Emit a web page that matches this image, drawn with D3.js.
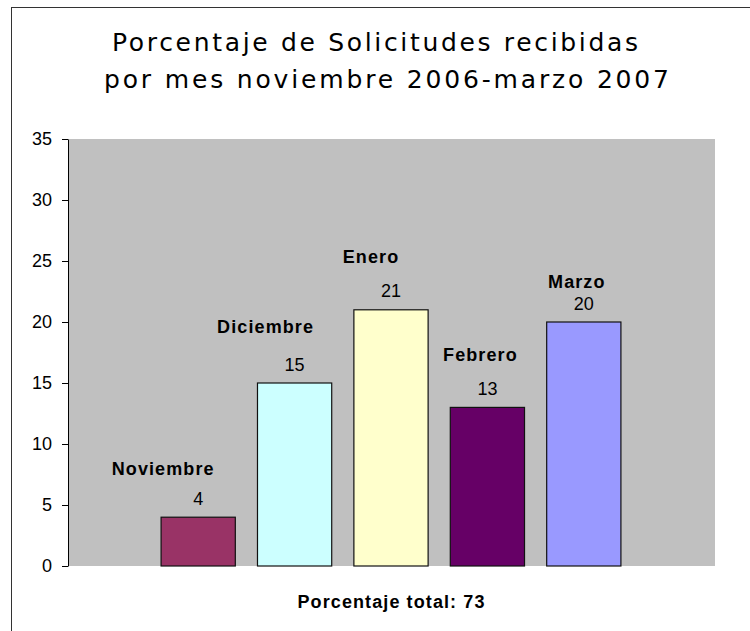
<!DOCTYPE html>
<html>
<head>
<meta charset="utf-8">
<script src="https://cdn.jsdelivr.net/npm/d3@7"></script>
<style>
  body { margin: 0; background: #fff; }
  svg { display: block; }
</style>
</head>
<body>
<script>
var width = 750;
var height = 631;

// data
var months = ["Noviembre", "Diciembre", "Enero", "Febrero", "Marzo"];
var percentages = [4, 15, 21, 13, 20];
var barColors = ["#993366", "#CCFFFF", "#FFFFCC", "#660066", "#9999FF"];
var yTicks = [0, 5, 10, 15, 20, 25, 30, 35];
var titleLines = ["Porcentaje de Solicitudes recibidas", "por mes noviembre 2006-marzo 2007"];
var axisTitle = "Porcentaje total: 73";

// layout: hand placed series-name labels (offset from bar centre / bar top)
var nameDx = [-35, -29, -20, -7, -7];
var nameRise = [42, 50, 47, 46, 34];

var plot = {left: 68, right: 715, top: 139, bottom: 566};

var svg = d3.select("body")
    .append("svg")
    .attr("width", width)
    .attr("height", height);

svg.append("rect")
    .attr("width", width)
    .attr("height", height)
    .attr("fill", "#ffffff");

// chart frame (clipped on right and bottom)
svg.append("rect")
    .attr("x", 11.5)
    .attr("y", 7.5)
    .attr("width", 800)
    .attr("height", 800)
    .attr("fill", "none")
    .attr("stroke", "#333");

// titulo
svg.append("g")
    .selectAll("text")
    .data(titleLines)
    .enter()
    .append("text")
    .attr("x", function(d, i) { return i == 0 ? 112 : 104; })
    .attr("y", function(d, i) { return i == 0 ? 51 : 88; })
    .attr("textLength", function(d, i) { return i == 0 ? 526 : 565; })
    .attr("lengthAdjust", "spacing")
    .attr("font-family", "DejaVu Sans, Verdana, sans-serif")
    .attr("font-size", 25)
    .attr("fill", "#000")
    .text(function(d) { return d; });

var x = d3.scaleBand()
    .domain(months)
    .range([150, 632])
    .paddingInner(0.23)
    .paddingOuter(0.115);

var y = d3.scaleLinear()
    .domain([0, 35])
    .range([plot.bottom, plot.top]);

// area de trazado
svg.append("rect")
    .attr("x", plot.left)
    .attr("y", plot.top)
    .attr("width", plot.right - plot.left)
    .attr("height", plot.bottom - plot.top)
    .attr("fill", "#C0C0C0");

var yAxis = svg.append("g")
    .attr("transform", "translate(" + plot.left + ",0)")
    .call(d3.axisLeft(y).tickValues(yTicks).tickSize(6).tickSizeOuter(0).tickPadding(10));

yAxis.select(".domain").attr("stroke", "#000");
yAxis.selectAll(".tick line").attr("stroke", "#000");
yAxis.selectAll(".tick text")
    .attr("font-family", "Liberation Sans, Arial, sans-serif")
    .attr("font-size", 18)
    .attr("fill", "#000");

// barras
svg.append("g")
    .selectAll("rect")
    .data(percentages)
    .enter()
    .append("rect")
    .attr("x", function(d, i) { return x(months[i]); })
    .attr("y", function(d) { return y(d); })
    .attr("width", x.bandwidth())
    .attr("height", function(d) { return y(0) - y(d); })
    .attr("fill", function(d, i) { return barColors[i]; })
    .attr("stroke", "#111")
    .attr("stroke-width", 1.2);

// valores
svg.append("g")
    .selectAll("text")
    .data(percentages)
    .enter()
    .append("text")
    .attr("x", function(d, i) { return x(months[i]) + x.bandwidth() / 2; })
    .attr("y", function(d) { return y(d) - 12.5; })
    .attr("text-anchor", "middle")
    .attr("font-family", "Liberation Sans, Arial, sans-serif")
    .attr("font-size", 18)
    .attr("fill", "#000")
    .text(function(d) { return d; });

// nombres de serie
svg.append("g")
    .selectAll("text")
    .data(months)
    .enter()
    .append("text")
    .attr("x", function(d, i) { return x(d) + x.bandwidth() / 2 + nameDx[i]; })
    .attr("y", function(d, i) { return y(percentages[i]) - nameRise[i]; })
    .attr("text-anchor", "middle")
    .attr("font-family", "Liberation Sans, Arial, sans-serif")
    .attr("font-size", 18)
    .attr("font-weight", "bold")
    .attr("letter-spacing", 1.1)
    .attr("fill", "#000")
    .text(function(d) { return d; });

// titulo del eje
svg.append("text")
    .attr("x", (plot.left + plot.right) / 2)
    .attr("y", 608)
    .attr("text-anchor", "middle")
    .attr("font-family", "Liberation Sans, Arial, sans-serif")
    .attr("font-size", 18)
    .attr("font-weight", "bold")
    .attr("letter-spacing", 1.1)
    .attr("fill", "#000")
    .text(axisTitle);
</script>
</body>
</html>
